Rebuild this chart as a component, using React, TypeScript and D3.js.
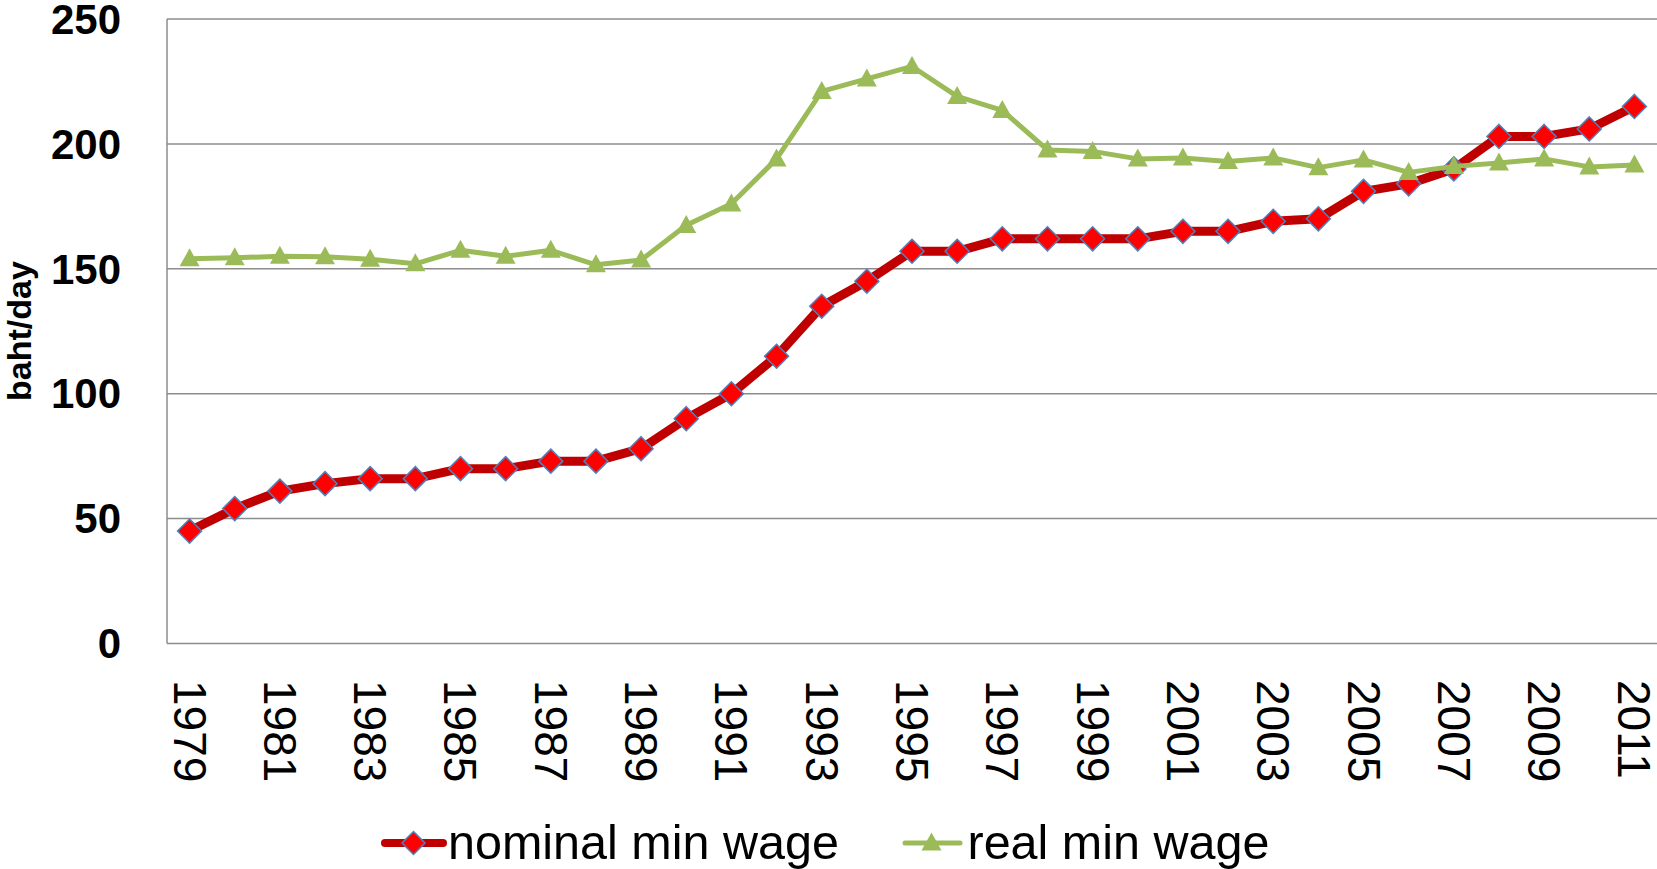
import React from "react";
import * as d3 from "d3";

const years: string[] = [
  "1979","1980","1981","1982","1983","1984","1985","1986","1987","1988","1989",
  "1990","1991","1992","1993","1994","1995","1996","1997","1998","1999","2000",
  "2001","2002","2003","2004","2005","2006","2007","2008","2009","2010","2011",
];
const nominalMinWage: number[] = [
  45, 54, 61, 64, 66, 66, 70, 70, 73, 73, 78,
  90, 100, 115, 135, 145, 157, 157, 162, 162, 162, 162,
  165, 165, 169, 170, 181, 184, 190, 203, 203, 206, 215,
];
const realMinWage: number[] = [
  154, 154.4, 155, 154.8, 153.8, 152, 157.4, 155, 157.4, 151.6, 153.5,
  167.4, 176, 194, 221, 226, 231, 219, 213.4, 197.6, 197, 194,
  194.4, 193, 194.4, 190.5, 193.6, 188.6, 191, 192.4, 194, 190.8, 191.6,
];
const yTicks: number[] = [0, 50, 100, 150, 200, 250];
const xTickLabels: string[] = years.filter((_, i) => i % 2 === 0);
const seriesNames: string[] = ["nominal min wage", "real min wage"];

const W = 1657;
const H = 869;
const plotLeft = 167;
const plotRight = 1657;
const plotTop = 19;
const plotBottom = 643.5;

const RED_LINE = "#C00000";
const RED_FILL = "#FF0000";
const BLUE_EDGE = "#4F81BD";
const GREEN = "#9BBB59";
const GRID = "#8C8C8C";

const diamondPath = (r: number) => `M0,${-r}L${r},0L0,${r}L${-r},0Z`;
const trianglePath = (w: number, h: number) =>
  `M0,${-h * 0.58}L${w / 2},${h * 0.42}L${-w / 2},${h * 0.42}Z`;

export default function App() {
  const x = d3.scaleBand<string>().domain(years).range([plotLeft, plotRight]).padding(0);
  const y = d3.scaleLinear().domain([0, 250]).range([plotBottom, plotTop]);
  const cx = (yr: string) => (x(yr) as number) + x.bandwidth() / 2;

  const line = d3
    .line<number>()
    .x((_, i) => cx(years[i]))
    .y((d) => y(d));

  return (
    <svg
      width={W}
      height={H}
      style={{ position: "absolute", left: 0, top: 0, background: "#fff" }}
      fontFamily="'Liberation Sans', Arial, sans-serif"
    >
      {/* gridlines */}
      {yTicks.map((t) => (
        <line key={t} x1={plotLeft} x2={plotRight} y1={y(t)} y2={y(t)} stroke={GRID} strokeWidth={1.5} />
      ))}
      {/* left axis */}
      <line x1={plotLeft} x2={plotLeft} y1={plotTop} y2={plotBottom} stroke={GRID} strokeWidth={1.5} />

      {/* y tick labels */}
      {yTicks.map((t) => (
        <text key={t} x={121} y={y(t)} dy="0.35em" textAnchor="end" fontSize={42} fontWeight="bold" fill="#000">
          {t}
        </text>
      ))}

      {/* y axis title */}
      <text
        transform={`translate(31,331) rotate(-90)`}
        textAnchor="middle"
        fontSize={34}
        fontWeight="bold"
        fill="#000"
      >
        baht/day
      </text>

      {/* x tick labels */}
      {xTickLabels.map((yr) => (
        <text
          key={yr}
          transform={`translate(${cx(yr)},680) rotate(90)`}
          textAnchor="start"
          dominantBaseline="central"
          fontSize={46}
          fill="#000"
        >
          {yr}
        </text>
      ))}

      {/* nominal series */}
      <path d={line(nominalMinWage) || ""} fill="none" stroke={RED_LINE} strokeWidth={9} strokeLinejoin="round" />
      {nominalMinWage.map((v, i) => (
        <path
          key={i}
          d={diamondPath(12)}
          transform={`translate(${cx(years[i])},${y(v)})`}
          fill={RED_FILL}
          stroke={BLUE_EDGE}
          strokeWidth={1.5}
        />
      ))}

      {/* real series */}
      <path d={line(realMinWage) || ""} fill="none" stroke={GREEN} strokeWidth={5} strokeLinejoin="round" />
      {realMinWage.map((v, i) => (
        <path
          key={i}
          d={trianglePath(20, 18)}
          transform={`translate(${cx(years[i])},${y(v)})`}
          fill={GREEN}
        />
      ))}

      {/* legend */}
      <line x1={385} x2={443} y1={843} y2={843} stroke={RED_LINE} strokeWidth={8} strokeLinecap="round" />
      <path d={diamondPath(11.5)} transform="translate(413.5,843)" fill={RED_FILL} stroke={BLUE_EDGE} strokeWidth={1.5} />
      <text x={448} y={859} fontSize={48.5} fill="#000">{seriesNames[0]}</text>

      <line x1={905} x2={960} y1={843} y2={843} stroke={GREEN} strokeWidth={5} strokeLinecap="round" />
      <path d={trianglePath(20, 18)} transform="translate(931.5,843)" fill={GREEN} />
      <text x={967.5} y={859} fontSize={48.5} fill="#000">{seriesNames[1]}</text>
    </svg>
  );
}
